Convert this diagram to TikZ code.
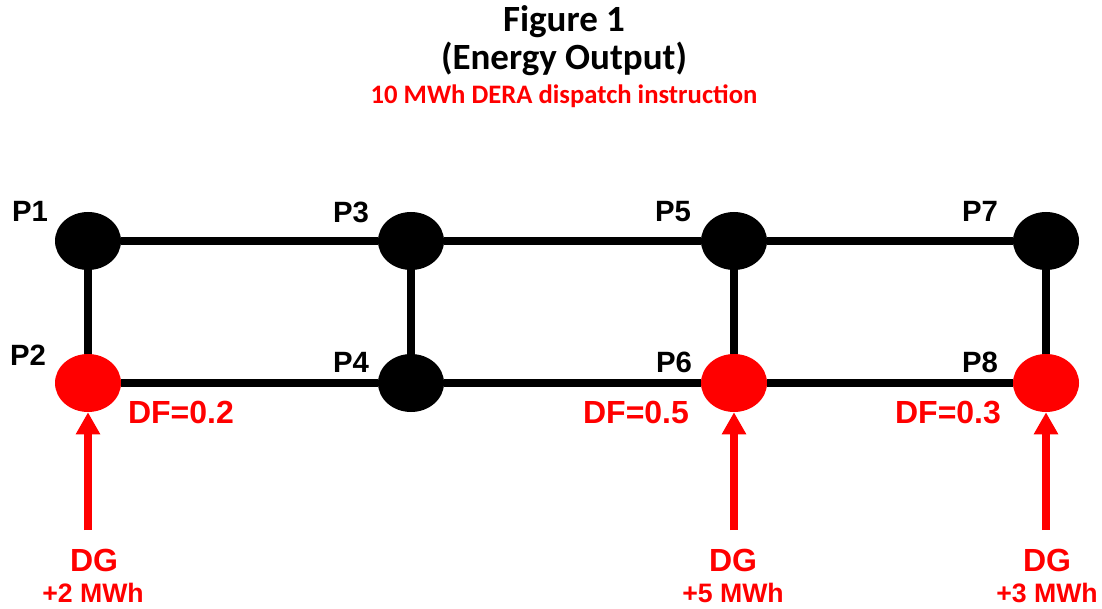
\documentclass[tikz,border=0pt]{standalone}
\usepackage{fontspec}
\setmainfont{Liberation Sans}
\newfontfamily\titlefont{Carlito}
\usepackage{tikz}
\usetikzlibrary{arrows.meta,positioning,shapes.geometric}
\definecolor{gridred}{HTML}{FF0000}

\begin{document}
\begin{tikzpicture}[
  x=0.75pt,y=-0.75pt,
  bus/.style={ellipse,fill=black,minimum width=49.5pt,minimum height=43.5pt,inner sep=0pt},
  dgbus/.style={bus,fill=gridred},
  link/.style={draw=black,line width=5.5pt},
  feed/.style={-{Triangle[length=16.5pt,width=17.25pt]},draw=gridred,line width=5.5pt},
  ttl/.style={anchor=base,inner sep=0pt,font=\titlefont\fontsize{27.75}{27.75}\selectfont\bfseries},
  plabel/.style={anchor=base,inner sep=0pt,font=\fontsize{22}{22}\selectfont\bfseries},
  dflabel/.style={anchor=base,inner sep=0pt,text=gridred,font=\fontsize{24}{24}\selectfont\bfseries},
  dglabel/.style={anchor=base,inner sep=0pt,text=gridred,font=\fontsize{24}{24}\selectfont\bfseries},
  mwhlabel/.style={anchor=base,inner sep=0pt,text=gridred,font=\fontsize{20}{20}\selectfont\bfseries}
]
\useasboundingbox (0,0) rectangle (1102,609);
% title
\node[ttl] (fig) at (564,32) {Figure 1};
\node[ttl] (out) at (564,70) {(Energy Output)};
\node[ttl,text=gridred,font=\titlefont\fontsize{20}{20}\selectfont\bfseries] (instr) at (564,104) {10 MWh DERA dispatch instruction};
% buses
\node[bus] (P1) at (88,241) {};
\node[dgbus] (P2) at (88,383) {};
\node[bus] (P3) at (411,241) {};
\node[bus] (P4) at (411,383) {};
\node[bus] (P5) at (734,241) {};
\node[dgbus] (P6) at (734,383) {};
\node[bus] (P7) at (1046,241) {};
\node[dgbus] (P8) at (1046,383) {};
% bus names
\node[plabel] (n1) at (30,222) {P1};
\node[plabel] (n2) at (28,365) {P2};
\node[plabel] (n3) at (351,223) {P3};
\node[plabel] (n4) at (351,372) {P4};
\node[plabel] (n5) at (673,222) {P5};
\node[plabel] (n6) at (674,372) {P6};
\node[plabel] (n7) at (980,222) {P7};
\node[plabel] (n8) at (980,372) {P8};
% lines
\draw[link] (P1) -- (P3);
\draw[link] (P3) -- (P5);
\draw[link] (P5) -- (P7);
\draw[link] (P2) -- (P4);
\draw[link] (P4) -- (P6);
\draw[link] (P6) -- (P8);
\draw[link] (P1) -- (P2);
\draw[link] (P3) -- (P4);
\draw[link] (P5) -- (P6);
\draw[link] (P7) -- (P8);
% distribution factors
\node[dflabel] (df2) at (181,423) {DF=0.2};
\node[dflabel] (df6) at (636,423) {DF=0.5};
\node[dflabel] (df8) at (948,423) {DF=0.3};
% generators
\coordinate (g2) at (88,530);
\coordinate (g6) at (734,530);
\coordinate (g8) at (1046,530);
\draw[feed] (g2) -- (P2);
\draw[feed] (g6) -- (P6);
\draw[feed] (g8) -- (P8);
\node[dglabel] (dg2) at (94,571) {DG};
\node[dglabel] (dg6) at (733,571) {DG};
\node[dglabel] (dg8) at (1047,571) {DG};
\node[mwhlabel] (e2) at (93,602) {+2 MWh};
\node[mwhlabel] (e6) at (733,602) {+5 MWh};
\node[mwhlabel] (e8) at (1047,602) {+3 MWh};
\end{tikzpicture}
\end{document}
